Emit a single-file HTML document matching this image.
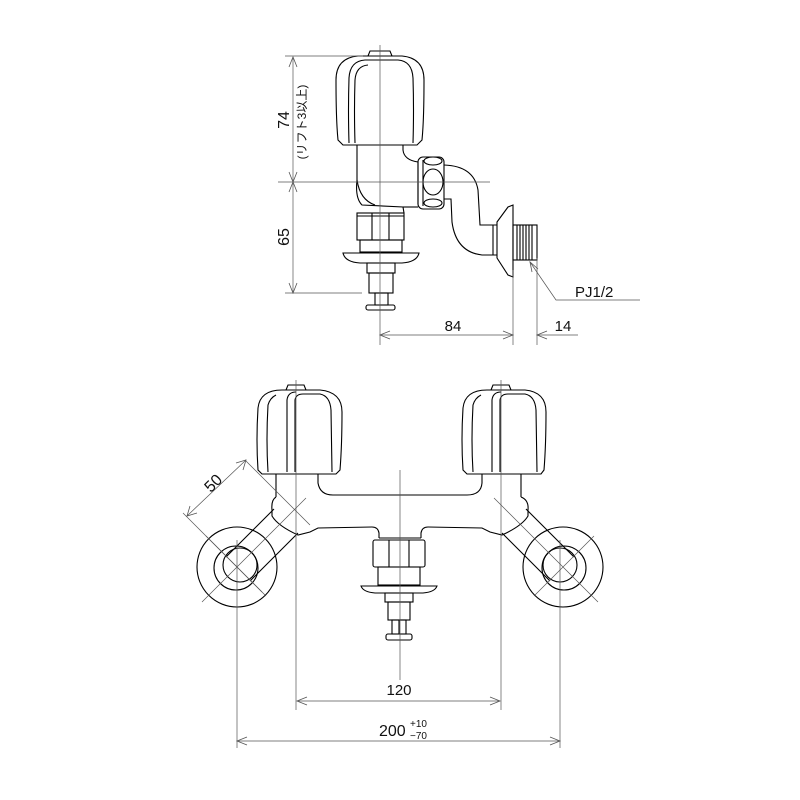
<!DOCTYPE html>
<html><head><meta charset="utf-8"><style>html,body{margin:0;padding:0;background:#fff}svg{display:block}</style></head>
<body>
<svg width="800" height="800" viewBox="0 0 800 800" xmlns="http://www.w3.org/2000/svg" font-family="Liberation Sans, Noto Sans CJK JP, sans-serif">
<g fill="none" stroke="#000" stroke-width="1.1">
<path d="M343,145 L338,140 Q336,120 336,80 Q336,58 358,56 L402,56 Q424,58 424,80 Q424,120 422,140 L417,145 Z"/>
<path d="M349,143 Q348,110 349,78 Q350,61 365,60 L398,60 Q412,61 413,78 Q414,110 413,143"/>
<path d="M355,143 Q354,110 355,80 Q356,66 368,65"/>
<path d="M368,56 L370,51 L390,51 L392,56"/>
<path d="M357,145 L357,180 Q355,198 362,205 L403,207 L404,213"/>
<path d="M357,180 Q360,200 375,205"/>
<path d="M403,145 L403,150 Q404,160 418,162"/>
<path d="M403,207 L418,207"/>
<rect x="418" y="157" width="26" height="52" rx="5"/>
<path d="M418,162 L418,204 M423,160 L423,206"/>
<ellipse cx="433" cy="182" rx="10" ry="13"/>
<ellipse cx="433" cy="161" rx="9" ry="4"/>
<ellipse cx="433" cy="203" rx="9" ry="4"/>
<path d="M444,165 Q474,166 478,190 L480,225 L497,225"/>
<path d="M444,199 L451,199 L452,222 Q456,252 482,255 L497,255"/>
<path d="M493,225 L493,255"/>
<path d="M497,222 L508,207 L513,205 L513,277 L508,275 L497,258 Z"/>
<rect x="513" y="225" width="24" height="35"/>
<path d="M517,225 V260 M520,225 V260 M523,225 V260 M526,225 V260 M529,225 V260 M532,225 V260"/>
<rect x="357" y="213" width="47" height="27"/>
<path d="M357,216 H404 M372,213 V240 M389,213 V240"/>
<rect x="360" y="240" width="42" height="12"/>
<path d="M343,253 Q345,262 360,263 L402,263 Q417,262 419,253 Z"/>
<rect x="367" y="263" width="28" height="10"/>
<rect x="369" y="273" width="24" height="20"/>
<rect x="375" y="293" width="13" height="12"/>
<rect x="366" y="305" width="29" height="5" rx="2"/>
<path d="M262,474 L258,470 Q256,440 258,408 Q260,390 282,390 L320,390 Q342,392 342,412 Q342,445 340,470 L336,474 Z"/>
<path d="M268,472 Q266,440 268,405 Q270,398 276,395"/>
<path d="M287,472 L287,400 Q288,392 296,392 M295,472 L295,400 Q296,394 303,394 L320,394 Q330,396 331,410 L332,472"/>
<path d="M286,390 L288,385 L304,385 L306,390"/>
<path d="M467,474 L463,470 Q461,440 463,408 Q465,390 487,390 L525,390 Q546,392 546,412 Q546,445 544,470 L541,474 Z"/>
<path d="M473,472 Q471,440 473,405 Q475,398 481,395"/>
<path d="M492,472 L492,400 Q493,392 501,392 M500,472 L500,400 Q501,394 508,394 L525,394 Q535,396 536,410 L537,472"/>
<path d="M491,390 L493,385 L509,385 L511,390"/>
<path d="M318,474 L318,483 Q320,495 333,495 L467,495 Q481,495 482,483 L482,474"/>
<path d="M276,474 L276,497 M521,474 L521,497"/>
<path d="M276,497 Q271,500 272,510 L272,516 Q278,526 298,535 L310,532 L318,528 L372,527 Q378,527 379,533 L379,538 M421,538 L421,533 Q422,527 428,527 L482,528 L490,532 L502,535 Q522,526 528,516 L528,510 Q529,500 521,497"/>
<path d="M379,538 L421,538"/>
<path d="M274,509 L226,557 M298,533 L250,581"/>
<circle cx="237" cy="567" r="40"/>
<circle cx="236" cy="568" r="22"/>
<circle cx="240" cy="565" r="17"/>
<path d="M526,509 L574,557 M502,533 L550,581"/>
<circle cx="563" cy="567" r="40"/>
<circle cx="564" cy="568" r="22"/>
<circle cx="560" cy="565" r="17"/>
<rect x="373" y="540" width="52" height="27" rx="2"/>
<path d="M389,540 V567 M409,540 V567"/>
<rect x="378" y="567" width="42" height="18"/>
<path d="M361,586 Q363,592 375,593 L423,593 Q435,592 437,586 Z"/>
<rect x="385" y="593" width="28" height="9"/>
<rect x="388" y="602" width="22" height="18"/>
<rect x="392" y="620" width="14" height="14"/>
<path d="M399,620 V634"/>
<rect x="386" y="634" width="26" height="6" rx="2"/>
</g>
<g fill="none" stroke="#555" stroke-width="0.7">
<path d="M380,45 V345 M285,56 H363 M278,182 H490 M285,293 H362"/>
<path d="M293,57 V293"/>
<path d="M513,270 V345 M537,258 V345"/>
<path d="M380,335 H513 M537,335 H578"/>
<path d="M530,262 L556,300 H640"/>
<path d="M296,380 V710 M400,470 V680 M501,380 V710 M237,540 V748 M560,540 V748"/>
<path d="M297,701 H500 M237,741 H560"/>
<path d="M183,513 L262,592 M245,460 L310,525 M187,516 L246,460"/>
<path d="M202,602 L306,498 M206,536 L266,596"/>
<path d="M598,602 L494,498 M594,536 L534,596"/>
</g>
<g fill="none" stroke="#555" stroke-width="0.8">
<path d="M289,67 L293,57 L297,67 M289,172 L293,182 L297,172 M289,192 L293,182 L297,192 M289,283 L293,293 L297,283"/>
<path d="M390,331 L380,335 L390,339 M503,331 L513,335 L503,339 M547,331 L537,335 L547,339"/>
<path d="M532,272 L530,262 L538,269"/>
<path d="M307,697 L297,701 L307,705 M490,697 L500,701 L490,705 M247,737 L237,741 L247,745 M550,737 L560,741 L550,745"/>
<path d="M190,506 L187,516 L197,513 M236,463 L246,460 L243,470"/>
</g>
<g fill="#111" font-size="15">
<text x="453" y="331" text-anchor="middle">84</text>
<text x="563" y="331" text-anchor="middle">14</text>
<text x="575" y="297">PJ1/2</text>
<text x="399" y="695" text-anchor="middle">120</text>
<text x="379" y="736" font-size="16">200</text>
<text x="410" y="727" font-size="10">+10</text>
<text x="410" y="739" font-size="10">−70</text>
<text transform="translate(289,120) rotate(-90)" text-anchor="middle" font-size="16">74</text>
<text transform="translate(289,237) rotate(-90)" text-anchor="middle" font-size="16">65</text>
<text transform="translate(306,122) rotate(-90)" text-anchor="middle" font-size="12">(リフト3以上)</text>
<text transform="translate(217,487) rotate(-45)" text-anchor="middle" font-size="16">50</text>
</g>
</svg>
</body></html>
